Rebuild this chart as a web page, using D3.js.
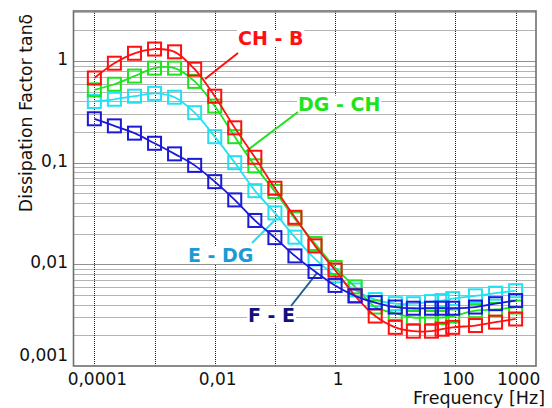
<!DOCTYPE html>
<head>
    <meta charset="utf-8">
    <script src="https://d3js.org/d3.v7.min.js"></script>
    <style>
        body { margin: 0; background: #fff; }
        text { font-family: "DejaVu Sans", Verdana, sans-serif; }
    </style>
</head>
<body>
    <div id="chart"></div>
    <script>
        const width = 552, height = 408;

        // frequencies (Hz), three per decade then denser near the top end
        const freqs = [0.0001, 0.000215, 0.000464, 0.001, 0.00215, 0.00464, 0.01, 0.0215, 0.0464,
            0.1, 0.215, 0.464, 1, 2.15, 4.64, 10, 20, 40, 60, 90, 215, 464, 1000];

        // dissipation factor tan delta for each winding pair
        const chB = [0.68, 0.95, 1.19, 1.31, 1.23, 0.83, 0.45, 0.22, 0.113, 0.056, 0.029, 0.0152,
            0.0088, 0.0049, 0.0031, 0.0024, 0.0022, 0.0022, 0.0023, 0.0024, 0.0025, 0.0027, 0.0029];
        const dgCh = [0.52, 0.59, 0.71, 0.85, 0.85, 0.63, 0.36, 0.18, 0.093, 0.052, 0.028, 0.016,
            0.0093, 0.006, 0.0038, 0.0033, 0.003, 0.003, 0.003, 0.0031, 0.0035, 0.0036, 0.0038];
        const eDg = [0.40, 0.42, 0.45, 0.48, 0.44, 0.31, 0.18, 0.10, 0.053, 0.032, 0.0185, 0.0113,
            0.0077, 0.0056, 0.0045, 0.0041, 0.0041, 0.0043, 0.0044, 0.0046, 0.0049, 0.0052, 0.0055];
        const fE = [0.27, 0.23, 0.195, 0.155, 0.122, 0.094, 0.065, 0.043, 0.027, 0.0183, 0.0121, 0.0085,
            0.0062, 0.0049, 0.0042, 0.0038, 0.0037, 0.0037, 0.0037, 0.0037, 0.0038, 0.0041, 0.0044];

        const seriesNames = ["E - DG", "DG - CH", "CH - B", "F - E"];

        const xTickLabels = [0.0001, 0.01, 1, 100, 1000];
        const yTickLabels = [1, 0.1, 0.01, 0.001];

        const series = [
            { name: seriesNames[0], values: eDg, color: "#22e2f2", labelColor: "#1a9ad6", leaderColor: "#22e2f2",
              label: [188, 262], leader: [[252, 243], [277, 218]] },
            { name: seriesNames[1], values: dgCh, color: "#1ee31e", labelColor: "#1ee31e", leaderColor: "#1ee31e",
              label: [298, 110.5], leader: [[298, 112], [245, 152]] },
            { name: seriesNames[2], values: chB, color: "#ff1010", labelColor: "#ff1010", leaderColor: "#ff1010",
              label: [238, 45], leader: [[238, 53], [205, 79]] },
            { name: seriesNames[3], values: fE, color: "#1a1ad8", labelColor: "#10107e", leaderColor: "#1f5d8f",
              label: [248, 321.5], leader: [[291, 306], [317, 273]] }
        ];

        const plot = { left: 73.5, right: 536, top: 11, bottom: 366 };

        const x = d3.scaleLog().domain([4.5e-5, 2180]).range([plot.left, plot.right]);
        const y = d3.scaleLog().domain([0.001, 3.1]).range([plot.bottom, plot.top]);

        const svg = d3.select("#chart").append("svg")
            .attr("width", width)
            .attr("height", height);

        // horizontal grid, every 1..9 of each decade
        const hLines = [];
        for (let e = -3; e <= 0; e++) {
            for (let k = 1; k <= 9; k++) {
                const v = k * Math.pow(10, e);
                if (v > 0.001 && v < 3.1) hLines.push(v);
            }
        }
        svg.append("g").selectAll("line")
            .data(hLines)
            .enter().append("line")
            .attr("x1", plot.left).attr("x2", plot.right)
            .attr("y1", d => Math.round(y(d)) + 0.5).attr("y2", d => Math.round(y(d)) + 0.5)
            .attr("stroke", d => Math.abs(Math.log10(d) % 1) < 1e-9 ? "#222" : "#666")
            .attr("stroke-dasharray", "1,1");

        // vertical grid, decades only
        const vLines = d3.range(-4, 4).map(e => Math.pow(10, e));
        svg.append("g").selectAll("line")
            .data(vLines)
            .enter().append("line")
            .attr("x1", d => Math.round(x(d)) + 0.5).attr("x2", d => Math.round(x(d)) + 0.5)
            .attr("y1", plot.top).attr("y2", plot.bottom)
            .attr("stroke", "#222")
            .attr("stroke-dasharray", "1,1");

        // labels sit on white boxes that hide the grid behind them
        const labels = svg.append("g");
        series.forEach(s => {
            const t = labels.append("text")
                .attr("x", s.label[0]).attr("y", s.label[1])
                .attr("font-size", 19).attr("font-weight", "bold")
                .attr("fill", s.labelColor)
                .text(s.name);
            const bb = t.node().getBBox();
            labels.insert("rect", "text")
                .attr("x", bb.x - 1).attr("y", bb.y + 3)
                .attr("width", bb.width + 2).attr("height", bb.height - 5)
                .attr("fill", "#fff");
        });

        // leader lines from label to curve
        svg.append("g").selectAll("line")
            .data(series)
            .enter().append("line")
            .attr("x1", d => d.leader[0][0]).attr("y1", d => d.leader[0][1])
            .attr("x2", d => d.leader[1][0]).attr("y2", d => d.leader[1][1])
            .attr("stroke", d => d.leaderColor)
            .attr("stroke-width", 2);

        const line = d3.line()
            .x((d, i) => x(freqs[i]))
            .y(d => y(d))
            .curve(d3.curveCatmullRom.alpha(0.5));

        const size = 13;
        series.forEach(s => {
            const g = svg.append("g");
            g.append("path")
                .datum(s.values)
                .attr("d", line)
                .attr("fill", "none")
                .attr("stroke", s.color)
                .attr("stroke-width", 1.8);
            g.selectAll("rect")
                .data(s.values)
                .enter().append("rect")
                .attr("x", (d, i) => x(freqs[i]) - size / 2)
                .attr("y", d => y(d) - size / 2)
                .attr("width", size).attr("height", size)
                .attr("fill", "none")
                .attr("stroke", s.color)
                .attr("stroke-width", 2);
        });

        // frame
        svg.append("rect")
            .attr("x", plot.left).attr("y", plot.top)
            .attr("width", plot.right - plot.left).attr("height", plot.bottom - plot.top)
            .attr("fill", "none")
            .attr("stroke", "#6e6e6e")
            .attr("stroke-width", 1.6);

        // tick labels
        const fmt = d => String(d).replace(".", ",");
        svg.append("g").selectAll("text")
            .data(xTickLabels)
            .enter().append("text")
            .attr("x", d => x(d) + 3)
            .attr("y", 385)
            .attr("text-anchor", "middle")
            .attr("font-size", 17)
            .attr("fill", "#111")
            .text(fmt);

        svg.append("g").selectAll("text")
            .data(yTickLabels)
            .enter().append("text")
            .attr("x", 68)
            .attr("y", d => Math.min(y(d) - 2, 355))
            .attr("dy", "0.35em")
            .attr("text-anchor", "end")
            .attr("font-size", 17)
            .attr("fill", "#111")
            .text(fmt);

        // axis titles
        svg.append("text")
            .attr("x", 545).attr("y", 404)
            .attr("text-anchor", "end")
            .attr("font-size", 17.5)
            .attr("fill", "#111")
            .text("Frequency [Hz]");

        svg.append("text")
            .attr("transform", "translate(32,113) rotate(-90)")
            .attr("text-anchor", "middle")
            .attr("font-size", 17.3)
            .attr("fill", "#111")
            .text("Dissipation Factor tanδ");
    </script>
</body>
